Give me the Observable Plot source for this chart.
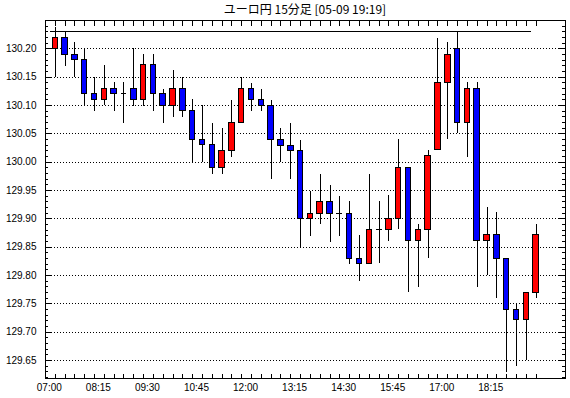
<!DOCTYPE html>
<html><head><meta charset="utf-8">
<script src="https://cdn.jsdelivr.net/npm/d3@7"></script>
<script src="https://cdn.jsdelivr.net/npm/@observablehq/plot@0.6"></script>
<style>
body{margin:0;background:#fff;}
#title{margin-left:45px;width:520px;height:19px;line-height:24px;text-align:center;font:12px "Noto Sans CJK JP",sans-serif;color:#000;white-space:nowrap;overflow:visible;}
</style></head><body>
<div id="title">ユーロ円 15分足 [05-09 19:19]</div>
<div id="chart"></div>
<script>
const times = ["07:00","07:15","07:30","07:45","08:00","08:15","08:30","08:45","09:00","09:15",
  "09:30","09:45","10:00","10:15","10:30","10:45","11:00","11:15","11:30","11:45",
  "12:00","12:15","12:30","12:45","13:00","13:15","13:30","13:45","14:00","14:15",
  "14:30","14:45","15:00","15:15","15:30","15:45","16:00","16:15","16:30","16:45",
  "17:00","17:15","17:30","17:45","18:00","18:15","18:30","18:45","19:00","19:15"];
const open = [130.200,130.219,130.189,130.181,130.121,130.110,130.129,130.121,130.129,130.110,
  130.171,130.121,130.099,130.129,130.090,130.039,130.031,129.990,130.019,130.069,
  130.129,130.109,130.099,130.039,130.029,130.019,129.899,129.909,129.929,129.909,
  129.909,129.829,129.821,129.881,129.881,129.900,129.990,129.860,129.881,130.021,
  130.140,130.200,130.069,130.129,129.860,129.871,129.829,129.739,129.721,129.769];
const high = [130.238,130.229,130.211,130.200,130.150,130.171,130.140,130.140,130.200,130.190,
  130.190,130.129,130.161,130.150,130.110,130.100,130.069,130.059,130.109,130.150,
  130.139,130.129,130.109,130.059,130.069,130.039,129.949,129.978,129.959,129.940,
  129.930,129.871,129.979,129.931,129.941,130.040,129.990,129.890,130.021,130.219,
  130.211,130.229,130.140,130.140,129.919,129.911,129.829,129.750,129.769,129.890];
const low = [130.150,130.169,130.150,130.099,130.090,130.100,130.090,130.069,130.099,130.099,
  130.090,130.069,130.079,130.079,130.000,130.000,129.979,129.979,130.008,130.069,
  130.089,130.089,129.969,130.000,129.969,129.850,129.868,129.889,129.858,129.868,
  129.819,129.790,129.821,129.821,129.859,129.881,129.769,129.779,129.829,130.021,
  130.040,130.050,130.009,129.779,129.800,129.760,129.629,129.640,129.650,129.760];
const close = [130.219,130.189,130.181,130.121,130.110,130.129,130.121,130.121,130.110,130.171,
  130.121,130.099,130.129,130.090,130.039,130.031,129.990,130.019,130.069,130.129,
  130.109,130.099,130.039,130.029,130.019,129.899,129.909,129.929,129.909,129.909,
  129.829,129.821,129.881,129.881,129.900,129.990,129.860,129.881,130.010,130.140,
  130.189,130.069,130.129,129.860,129.871,129.829,129.739,129.721,129.769,129.871];
const tickLabels = ["07:00","08:15","09:30","10:45","12:00","13:15","14:30","15:45","17:00","18:15"];
const gridValues = [129.65,129.70,129.75,129.80,129.85,129.90,129.95,130.00,130.05,130.10,130.15,130.20];
const minorValues = [129.62,129.63,129.64,129.66,129.67,129.68,129.69,129.71,129.72,129.73,129.74,
  129.76,129.77,129.78,129.79,129.81,129.82,129.83,129.84,129.86,129.87,129.88,129.89,
  129.91,129.92,129.93,129.94,129.96,129.97,129.98,129.99,130.01,130.02,130.03,130.04,
  130.06,130.07,130.08,130.09,130.11,130.12,130.13,130.14,130.16,130.17,130.18,130.19,
  130.21,130.22,130.23,130.24];
const refLine = 130.23;

const candles = times.map((t, i) => ({i, t, open: open[i], high: high[i], low: low[i], close: close[i]}));
const idx = candles.map(d => d.i);
const labelIdx = tickLabels.map(l => times.indexOf(l));

const W = 570, H = 379, mT = 1, mR = 5, mB = 20, mL = 45;
const fw = W - mL - mR, fh = H - mT - mB;
const crisp = {shapeRendering: "crispEdges", stroke: "#000"};

const chart = Plot.plot({
  width: W, height: H, marginTop: mT, marginRight: mR, marginBottom: mB, marginLeft: mL,
  style: {background: "#fff", fontFamily: "'Liberation Sans', Arial, sans-serif", fontSize: "10px", color: "#000"},
  x: {type: "linear", domain: [-1, 52], axis: null},
  y: {domain: [129.618, 130.25], axis: null},
  marks: [
    Plot.ruleY(gridValues, {y: d => d, strokeDasharray: "1,2", ...crisp}),
    Plot.ruleY([refLine], {y: d => d, x1: idx[0] - 0.5, x2: idx[idx.length - 2] + 0.5, ...crisp}),
    Plot.ruleX(candles, {x: "i", y1: "low", y2: "high", ...crisp}),
    Plot.rect(candles.filter(d => d.open !== d.close), {
      x1: d => d.i - 0.28, x2: d => d.i + 0.28, y1: "open", y2: "close",
      fill: d => d.close > d.open ? "#ff0000" : "#0000ff", ...crisp
    }),
    Plot.ruleY(candles.filter(d => d.open === d.close), {y: "open", x1: d => d.i - 0.3, x2: d => d.i + 0.3, ...crisp}),
    Plot.tickY(minorValues, {y: d => d, insetRight: fw - 3, ...crisp}),
    Plot.tickY(minorValues, {y: d => d, insetLeft: fw - 3, ...crisp}),
    Plot.tickY(gridValues, {y: d => d, insetRight: fw - 6, ...crisp}),
    Plot.tickY(gridValues, {y: d => d, insetLeft: fw - 6, ...crisp}),
    Plot.tickX(idx, {x: d => d, insetBottom: fh - 6, ...crisp}),
    Plot.tickX(idx, {x: d => d, insetTop: fh - 4, ...crisp}),
    Plot.axisY(gridValues, {anchor: "left", tickSize: 0, tickPadding: 9, tickFormat: d3.format(".2f"), label: null}),
    Plot.axisX(labelIdx, {anchor: "bottom", tickSize: 0, tickPadding: 5, dx: -6, tickFormat: i => times[i], label: null}),
    Plot.frame({strokeWidth: 1.5, ...crisp})
  ]
});
document.getElementById("chart").appendChild(chart);
</script>
</body></html>
